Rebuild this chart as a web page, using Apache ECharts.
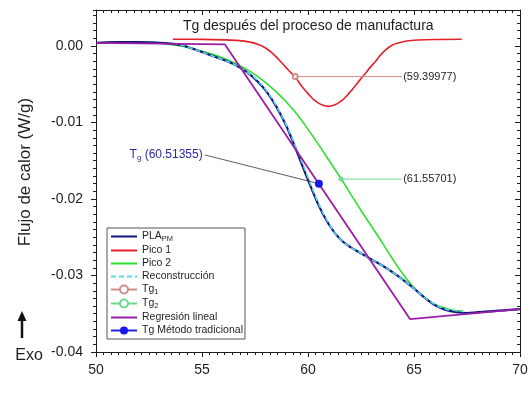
<!DOCTYPE html>
<html>
<head>
<meta charset="utf-8">
<script src="https://cdn.jsdelivr.net/npm/echarts@6/dist/echarts.min.js"></script>
<style>
html,body{margin:0;padding:0;background:#fff}
#c{width:531px;height:408px}
</style>
</head>
<body>
<div id="c"></div>
<script>
// DSC heat-flow curves of PLA after manufacturing: measured signal, peak fit and Tg estimates
const plaT = [50, 51, 52, 53, 53.5, 54, 54.5, 55, 55.5, 56, 56.5, 57, 57.5, 58, 58.5, 59, 59.5, 60, 60.5, 61, 61.5, 62, 62.5, 63, 63.5, 64, 64.5, 65, 65.5, 66, 66.5, 67, 67.5, 68, 68.5, 69, 69.5, 70];
const plaQ = [0.0004, 0.0005, 0.0005, 0.0004, 0.0003, 0.0001, -0.0003, -0.0008, -0.0013, -0.0018, -0.0024, -0.0032, -0.0043, -0.0058, -0.0079, -0.0106, -0.0140, -0.0175, -0.0208, -0.0234, -0.0252, -0.0263, -0.0271, -0.0279, -0.0287, -0.0296, -0.0306, -0.0317, -0.0329, -0.0339, -0.0345, -0.0348, -0.0349, -0.0348, -0.0347, -0.0346, -0.0345, -0.0344];

const pico1T = [53.62, 55, 56, 56.76, 57.26, 57.66, 57.96, 58.26, 58.52, 58.76, 58.96, 59.16, 59.31, 59.46, 59.66, 59.86, 60.06, 60.26, 60.46, 60.66, 60.96, 61.26, 61.46, 61.66, 61.86, 62.06, 62.26, 62.46, 62.61, 62.76, 62.96, 63.16, 63.4, 63.66, 63.96, 64.26, 64.66, 65.16, 66, 67.25];
const pico1Q = [0.00088, 0.00086, 0.0008, 0.0007, 0.0005, 0.0002, -0.0002, -0.0008, -0.0015, -0.0022, -0.0028, -0.0034, -0.0038, -0.0043, -0.0051, -0.0058, -0.0064, -0.0070, -0.0074, -0.0077, -0.0079, -0.0077, -0.0074, -0.0070, -0.0064, -0.0058, -0.0051, -0.0044, -0.0039, -0.0034, -0.0027, -0.0021, -0.00125, -0.0005, 0.0001, 0.0004, 0.00065, 0.00077, 0.00085, 0.00088];

const pico2T = [50, 51, 52, 53, 53.5, 54, 54.5, 55, 55.5, 56, 56.5, 57, 57.5, 58, 58.5, 59, 59.5, 60, 60.5, 61, 61.5, 62, 62.5, 63, 63.5, 64, 64.5, 65, 65.5, 66, 66.5, 67, 67.3];
const pico2Q = [0.0004, 0.0005, 0.0005, 0.0004, 0.0002, 0.0000, -0.0003, -0.0007, -0.0011, -0.0016, -0.0022, -0.0029, -0.00375, -0.0048, -0.0060, -0.0074, -0.0090, -0.0109, -0.0129, -0.0150, -0.0171, -0.0193, -0.0215, -0.0236, -0.0257, -0.0279, -0.0299, -0.0316, -0.0329, -0.0338, -0.0343, -0.0346, -0.0346];

const recT = [53.6, 54, 54.5, 55, 55.5, 56, 56.5, 57, 57.5, 58, 58.5, 59, 59.5, 60, 60.5, 61, 61.5, 62, 62.5, 63, 63.5, 64, 64.5, 65, 65.5, 66, 66.5, 67, 67.3];
const recQ = [0.0004, 0.0001, -0.0003, -0.0008, -0.0013, -0.0018, -0.0024, -0.0032, -0.0042, -0.0057, -0.0078, -0.0105, -0.0137, -0.0172, -0.0206, -0.0233, -0.0252, -0.0263, -0.0271, -0.0279, -0.0287, -0.0296, -0.0306, -0.0317, -0.0329, -0.0338, -0.0344, -0.0346, -0.0347];

const regT = [50, 56.08, 64.81, 70];
const regQ = [0.0004, 0.0002, -0.0357, -0.0344];

const tg1T = [59.39977, 64.43];
const tg1Q = [-0.0040, -0.0040];
const tg2T = [61.55701, 64.43];
const tg2Q = [-0.0174, -0.0174];

const tgTradT = [60.51355];
const tgTradQ = [-0.0180];
const tgLeadT = [55.14, 60.51355];
const tgLeadQ = [-0.01425, -0.0180];

const xTicks = { min: 50, max: 70, interval: 5 };
const yTicks = { min: -0.04, max: 0.0047, interval: 0.01, minorInterval: 0.001 };

const FONT = 'Liberation Sans, Arial, sans-serif';
const INK = '#1e1e1e';

function pairs(xs, ys) { return xs.map((x, i) => [x, ys[i]]); }

const chart = echarts.init(document.getElementById('c'), null, { renderer: 'canvas' });

function xAxisDef(pos) {
  const bottom = pos === 'bottom';
  return {
    type: 'value', position: pos, min: xTicks.min, max: xTicks.max, interval: xTicks.interval,
    axisLine: { show: true, onZero: false, lineStyle: { color: INK, width: 1 } },
    axisTick: { show: true, inside: !bottom, length: 5, lineStyle: { color: INK } },
    minorTick: { show: true, splitNumber: 14, length: 3, lineStyle: { color: INK } },
    splitLine: { show: false },
    axisLabel: { show: bottom, margin: 11, fontSize: 14, color: INK, fontFamily: FONT }
  };
}
function yAxisDef(pos, major) {
  const left = pos === 'left';
  return {
    type: 'value', position: pos, min: yTicks.min, max: yTicks.max,
    interval: major ? yTicks.interval : yTicks.minorInterval,
    axisLine: { show: major, onZero: false, lineStyle: { color: INK, width: 1 } },
    axisTick: { show: true, inside: !left, length: major ? 5 : 3, lineStyle: { color: INK } },
    splitLine: { show: false },
    axisLabel: {
      show: left && major, margin: 13, fontSize: 14, color: INK, fontFamily: FONT,
      showMaxLabel: false,
      formatter: v => v.toFixed(2)
    }
  };
}

function legendName(name) {
  const m = name.split('_');
  if (m.length === 2) return '{n|' + m[0] + '}{s|' + m[1] + '}';
  return '{n|' + name + '}';
}

// legend entries of plain curves show only their line sample
const lineOnly = { itemStyle: { opacity: 0 } };

const smoothCurve = { symbol: 'none', smooth: 0.35 };

const option = {
  animation: false,
  backgroundColor: '#fff',
  textStyle: { fontFamily: FONT },
  grid: { left: 96, right: 11, top: 10, bottom: 56, containLabel: false },
  title: {
    text: 'Tg después del proceso de manufactura',
    left: 178, top: 14,
    textStyle: { fontSize: 14, fontWeight: 'normal', color: INK, fontFamily: FONT }
  },
  xAxis: [xAxisDef('bottom'), xAxisDef('top')],
  yAxis: [yAxisDef('left', true), yAxisDef('left', false), yAxisDef('right', true), yAxisDef('right', false)],
  legend: {
    orient: 'vertical', left: 107, top: 228,
    data: [
      Object.assign({ name: 'PLA_PM' }, lineOnly),
      Object.assign({ name: 'Pico 1' }, lineOnly),
      Object.assign({ name: 'Pico 2' }, lineOnly),
      Object.assign({ name: 'Reconstrucción' }, lineOnly),
      { name: 'Tg_1' },
      { name: 'Tg_2' },
      Object.assign({ name: 'Regresión lineal' }, lineOnly),
      { name: 'Tg Método tradicional' }
    ],
    itemWidth: 26, itemHeight: 10, itemGap: 2,
    padding: [3, 2, 3, 3],
    backgroundColor: '#fff', borderColor: '#555', borderWidth: 1, borderRadius: 0,
    formatter: legendName,
    textStyle: {
      color: INK, fontFamily: FONT, fontSize: 10.5,
      rich: {
        n: { fontSize: 10.5, color: INK, fontFamily: FONT },
        s: { fontSize: 7.5, color: INK, fontFamily: FONT, padding: [5, 0, 0, 0] }
      }
    }
  },
  graphic: [
    { type: 'text', x: 25, y: 172, rotation: Math.PI / 2,
      style: { text: 'Flujo de calor (W/g)', font: '17px ' + FONT, fill: INK, align: 'center', verticalAlign: 'middle' } },
    { type: 'text', x: 29, y: 356,
      style: { text: 'Exo', font: '16px ' + FONT, fill: INK, align: 'center', verticalAlign: 'middle' } },
    { type: 'line', shape: { x1: 22, y1: 338, x2: 22, y2: 319 }, style: { stroke: '#111', lineWidth: 2.5 } },
    { type: 'polygon', shape: { points: [[22, 311], [17.5, 321], [26.5, 321]] }, style: { fill: '#111' } }
  ],
  series: [
    Object.assign({
      name: 'Pico 1', type: 'line', data: pairs(pico1T, pico1Q),
      lineStyle: { color: '#e4202a', width: 1.6 }, itemStyle: { color: '#e4202a' }
    }, smoothCurve),
    Object.assign({
      name: 'Pico 2', type: 'line', data: pairs(pico2T, pico2Q),
      lineStyle: { color: '#2ee02e', width: 1.6 }, itemStyle: { color: '#2ee02e' }
    }, smoothCurve),
    Object.assign({
      name: 'PLA_PM', type: 'line', data: pairs(plaT, plaQ),
      lineStyle: { color: '#12167e', width: 2.2 }, itemStyle: { color: '#12167e' }
    }, smoothCurve),
    Object.assign({
      name: 'Reconstrucción', type: 'line', data: pairs(recT, recQ),
      lineStyle: { color: '#5cd6e6', width: 1.6, type: [5, 3] }, itemStyle: { color: '#5cd6e6' }
    }, smoothCurve),
    {
      name: 'Regresión lineal', type: 'line', data: pairs(regT, regQ), symbol: 'none',
      lineStyle: { color: '#9a1fa6', width: 1.8 }, itemStyle: { color: '#9a1fa6' }
    },
    {
      name: 'Tg_1', type: 'line', symbol: 'emptyCircle', symbolSize: 5, showSymbol: true,
      data: pairs(tg1T, tg1Q).map((p, i) => i === 0 ? { value: p } : {
        value: p, symbol: 'circle', symbolSize: 0.5,
        label: { show: true, position: 'right', distance: 1, formatter: '(' + tg1T[0].toFixed(5) + ')',
          color: INK, fontSize: 11, fontFamily: FONT }
      }),
      lineStyle: { color: '#cf8c8c', width: 1 }, itemStyle: { color: '#cf8c8c' }
    },
    {
      name: 'Tg_2', type: 'line', symbol: 'emptyCircle', symbolSize: 3, showSymbol: true,
      data: pairs(tg2T, tg2Q).map((p, i) => i === 0 ? { value: p } : {
        value: p, symbol: 'circle', symbolSize: 0.5,
        label: { show: true, position: 'right', distance: 1, formatter: '(' + tg2T[0].toFixed(5) + ')',
          color: INK, fontSize: 11, fontFamily: FONT }
      }),
      lineStyle: { color: '#6ad98a', width: 1 }, itemStyle: { color: '#6ad98a' }
    },
    {
      name: 'guia Tg', type: 'line', symbol: 'circle', symbolSize: 0.5, showSymbol: true,
      data: pairs(tgLeadT, tgLeadQ).map((p, i) => i !== 0 ? { value: p } : {
        value: p,
        label: {
          show: true, position: 'left', distance: 2,
          formatter: '{a|T}{s|g}{a| (' + tgTradT[0].toFixed(5) + ')}',
          rich: {
            a: { fontSize: 12, color: '#2b2b9c', fontFamily: FONT },
            s: { fontSize: 8, color: '#2b2b9c', fontFamily: FONT, padding: [6, 0, 0, 0] }
          }
        }
      }),
      lineStyle: { color: '#333', width: 0.8 }, itemStyle: { color: '#333' }
    },
    {
      name: 'Tg Método tradicional', type: 'line', symbol: 'circle', symbolSize: 8, showSymbol: true,
      data: pairs(tgTradT, tgTradQ),
      lineStyle: { color: '#2525dd', width: 1 }, itemStyle: { color: '#1818ee' }
    }
  ]
};

chart.setOption(option);
</script>
</body>
</html>
